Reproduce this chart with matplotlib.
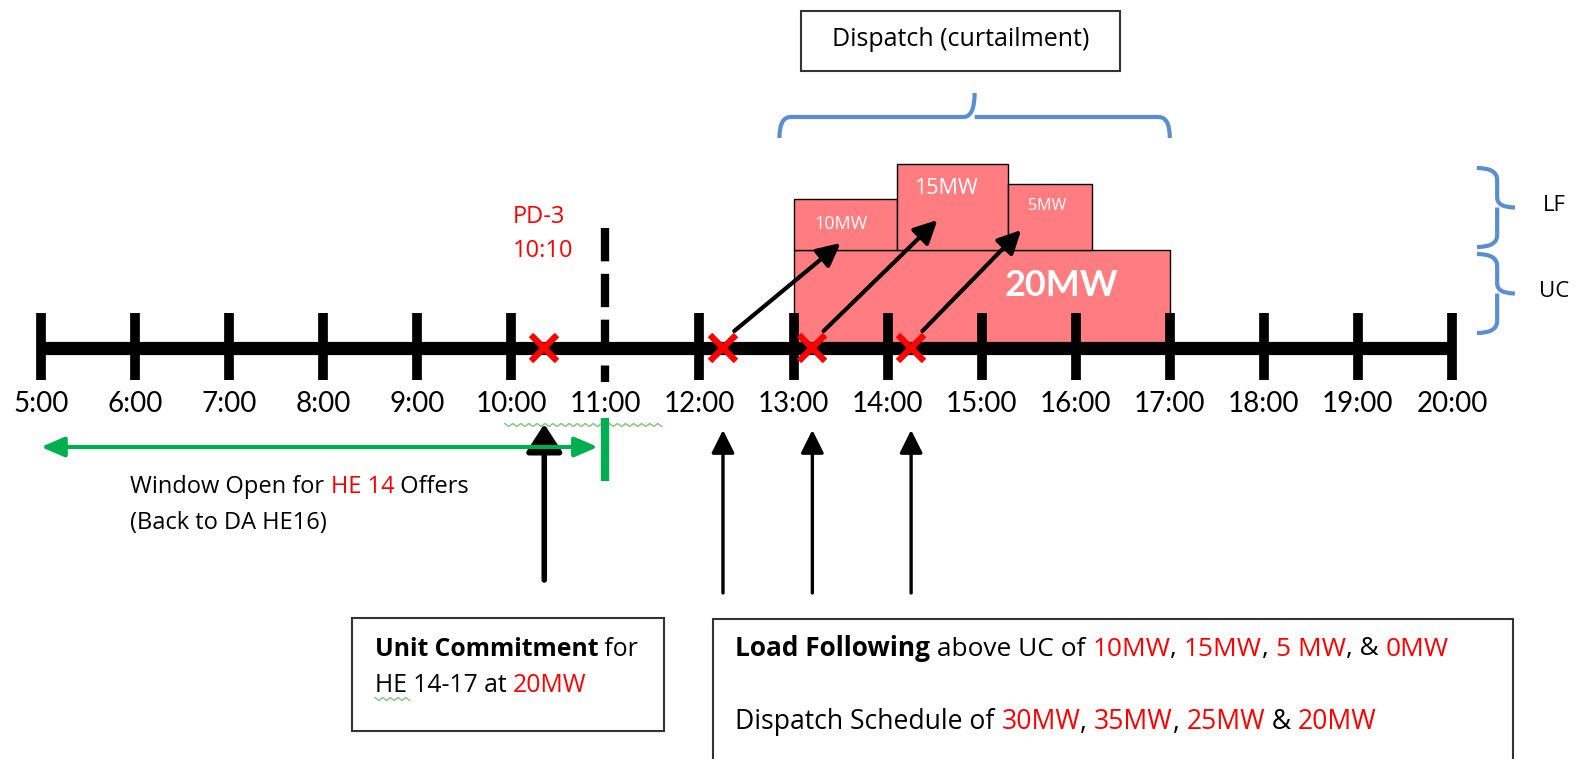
import numpy as np
import matplotlib
matplotlib.use('Agg')
import matplotlib.pyplot as plt
from matplotlib.patches import Rectangle, PathPatch
from matplotlib.path import Path

# timeline data (x in hours, y in picture rows)
hours = list(range(5, 21))
hour_labels = [f'{h}:00' for h in hours]
pd_close = 11                          # dashed line, no solid tick here
pd_text = ['PD-3', '10:10']
cross_hours = [10.35, 12.25, 13.2, 14.25]

# unit commitment block and load following blocks
uc_start, uc_end, uc_label = 13, 17, '20MW'
lf_starts = [13, 14.1, 15.28]
lf_ends = [14.1, 15.28, 16.17]
lf_labels = ['10MW', '15MW', '5MW']
lf_tops = [199, 164, 184]
lf_label_x = [13.5, 14.62, 15.7]
lf_label_y = [224, 188, 206]
lf_label_size = [13, 15.5, 11.5]
lf_arrow_x = [13.5, 14.53, 15.42]
lf_arrow_y = [243, 220, 230]

window_start, window_end = 5, 10.92
dispatch_span = (12.85, 17.0)

RED = '#FF0000'
PINK = '#FF7C80'
GREEN = '#00B050'
BLUE = '#5B8ED0'
SQUIG = '#7CC47F'

plt.rcParams['font.family'] = ['Lato', 'DejaVu Sans']
BOX_FONT = 'Open Sans'

fig = plt.figure(figsize=(15.8, 7.59), dpi=100)
ax = fig.add_axes([0, 0, 1, 1])
px = 94.07  # pixels per hour
ax.set_xlim(5 - 41 / px, 20 + (1580 - 1452) / px)
ax.set_ylim(759, 0)
ax.axis('off')

line_y = 348
base_uc = 250

# blocks
ax.add_patch(Rectangle((uc_start, base_uc), uc_end - uc_start, line_y - base_uc,
                       facecolor=PINK, edgecolor='black', lw=1, zorder=1))
ax.text(15.85, 285, uc_label, color='white', fontsize=26,
        weight='bold', ha='center', va='center', zorder=5)
for s, e, lab, top, lx, ly, fs in zip(lf_starts, lf_ends, lf_labels, lf_tops,
                                      lf_label_x, lf_label_y, lf_label_size):
    ax.add_patch(Rectangle((s, top), e - s, base_uc - top, facecolor=PINK,
                           edgecolor='black', lw=1, zorder=1))
    ax.text(lx, ly, lab, color='white', fontsize=fs, ha='center', va='center',
            family=BOX_FONT, zorder=5)

# timeline
ax.plot([hours[0], hours[-1]], [line_y, line_y], color='black', lw=9.5,
        solid_capstyle='butt', zorder=3)
for h, lab in zip(hours, hour_labels):
    if h != pd_close:
        ax.plot([h, h], [313, 380], color='black', lw=7, solid_capstyle='butt', zorder=3)
    ax.text(h, 404, lab, fontsize=20, ha='center', va='center')


def squiggle(xa, xb, y, n):
    xs = np.linspace(xa, xb, n)
    ys = y + np.tile([-1.5, 1.5], n)[:n]
    ax.plot(xs, ys, color=SQUIG, lw=1)


squiggle(9.93, 11.6, 425, 40)

# PD-3 dashed line
ax.plot([pd_close, pd_close], [228, 382], color='black', lw=6,
        dashes=(4, 1.5), solid_capstyle='butt', zorder=3)
ax.text(10.02, 217, pd_text[0], color=RED, fontsize=17, family=BOX_FONT, va='center')
ax.text(10.02, 251, pd_text[1], color=RED, fontsize=17, family=BOX_FONT, va='center')

# red crosses
ax.plot(cross_hours, [line_y] * len(cross_hours), 'x', color=RED, ms=19, mew=4.5, zorder=4)

# diagonal arrows into LF blocks
for cx, ex, ey in zip(cross_hours[1:], lf_arrow_x, lf_arrow_y):
    ax.annotate('', xy=(ex, ey), xytext=(cx + 0.12, 331),
                arrowprops=dict(arrowstyle='-|>,head_length=14,head_width=7',
                                mutation_scale=1, lw=3, color='black',
                                shrinkA=0, shrinkB=0), zorder=6)

# up arrows under crosses
for i, cx in enumerate(cross_hours):
    bottom = 580 if i == 0 else 593
    lw = 4 if i == 0 else 2.4
    hl, hw = (17, 11) if i == 0 else (14, 7)
    ax.annotate('', xy=(cx, 424 if i == 0 else 430), xytext=(cx, bottom),
                arrowprops=dict(arrowstyle=f'-|>,head_length={hl},head_width={hw}',
                                mutation_scale=1, lw=lw, color='black',
                                shrinkA=0, shrinkB=0))

# window open arrow
ax.annotate('', xy=(window_end, 447), xytext=(window_start, 447),
            arrowprops=dict(arrowstyle='<|-|>,head_length=14,head_width=6',
                            mutation_scale=1, lw=3, color=GREEN, shrinkA=0, shrinkB=0))
ax.plot([pd_close, pd_close], [418, 481], color=GREEN, lw=6, solid_capstyle='butt')


def rich(x, y, parts, fs, family=BOX_FONT):
    t = None
    for s, c, w in parts:
        kw = dict(color=c, weight=w, fontsize=fs, ha='left', family=family)
        if t is None:
            t = ax.text(x, y, s, va='center', **kw)
        else:
            t = ax.annotate(s, xy=(1, 0), xycoords=t, va='bottom', **kw)
    return t


rich(5.95, 487, [('Window Open for ', 'black', 'normal'), ('HE 14', RED, 'normal'),
                 (' Offers', 'black', 'normal')], 17)
ax.text(5.95, 523, '(Back to DA HE16)', fontsize=17, family=BOX_FONT, va='center')

# bottom boxes
ax.add_patch(Rectangle((8.306, 618), 11.62 - 8.306, 731 - 618, facecolor='white',
                       edgecolor='#333333', lw=1.5))
rich(8.55, 649, [('Unit Commitment', 'black', 'bold'), (' for', 'black', 'normal')], 17.8)
rich(8.55, 686, [('HE 14-17 at ', 'black', 'normal'), ('20MW', RED, 'normal')], 17.8)
squiggle(8.55, 8.92, 699, 10)

ax.add_patch(Rectangle((12.14, 619), 20.65 - 12.14, 200, facecolor='white',
                       edgecolor='#333333', lw=1.5, clip_on=True))
rich(12.38, 648, [('Load Following', 'black', 'bold'), (' above UC of ', 'black', 'normal'),
                  ('10MW', RED, 'normal'), (', ', 'black', 'normal'), ('15MW', RED, 'normal'),
                  (', ', 'black', 'normal'), ('5 MW', RED, 'normal'), (', & ', 'black', 'normal'),
                  ('0MW', RED, 'normal')], 18.9)
rich(12.38, 722, [('Dispatch Schedule of ', 'black', 'normal'), ('30MW', RED, 'normal'),
                  (', ', 'black', 'normal'), ('35MW', RED, 'normal'), (', ', 'black', 'normal'),
                  ('25MW', RED, 'normal'), (' & ', 'black', 'normal'), ('20MW', RED, 'normal')], 19.1)

# dispatch box and brace
ax.add_patch(Rectangle((13.08, 11), 16.47 - 13.08, 60, facecolor='white',
                       edgecolor='#333333', lw=1.5))
ax.text(14.78, 40, 'Dispatch (curtailment)', fontsize=18, family=BOX_FONT,
        ha='center', va='center')

x0, x1 = dispatch_span
xm = (x0 + x1) / 2
r = 0.12
verts = [(x0, 138), (x0, 117), (x0 + r, 117), (xm - r, 117), (xm, 117), (xm, 93),
         (xm, 117), (xm + r, 117), (x1 - r, 117), (x1, 117), (x1, 138)]
codes = [Path.MOVETO, Path.CURVE3, Path.CURVE3, Path.LINETO, Path.CURVE3, Path.CURVE3,
         Path.MOVETO, Path.CURVE3, Path.LINETO, Path.CURVE3, Path.CURVE3]
ax.add_patch(PathPatch(Path(verts, codes), facecolor='none', edgecolor=BLUE, lw=3,
                       capstyle='butt'))

# right side braces
bx0, bx1, bx2 = 20.265, 20.48, 20.67
for top, bot, lab in [(168, 247, 'LF'), (254, 333, 'UC')]:
    mid = (top + bot) / 2
    v = [(bx0, top), (bx1, top), (bx1, top + 12), (bx1, mid - 10), (bx1, mid), (bx2, mid),
         (bx1, mid), (bx1, mid + 10), (bx1, bot - 12), (bx1, bot), (bx0, bot)]
    c = [Path.MOVETO, Path.CURVE3, Path.CURVE3, Path.LINETO, Path.CURVE3, Path.LINETO,
         Path.MOVETO, Path.CURVE3, Path.LINETO, Path.CURVE3, Path.CURVE3]
    ax.add_patch(PathPatch(Path(v, c), facecolor='none', edgecolor=BLUE, lw=3))
    ax.text(21.09, mid - 2, lab, fontsize=16, family=BOX_FONT, ha='center', va='center')

fig.savefig('out.png', dpi=100)
